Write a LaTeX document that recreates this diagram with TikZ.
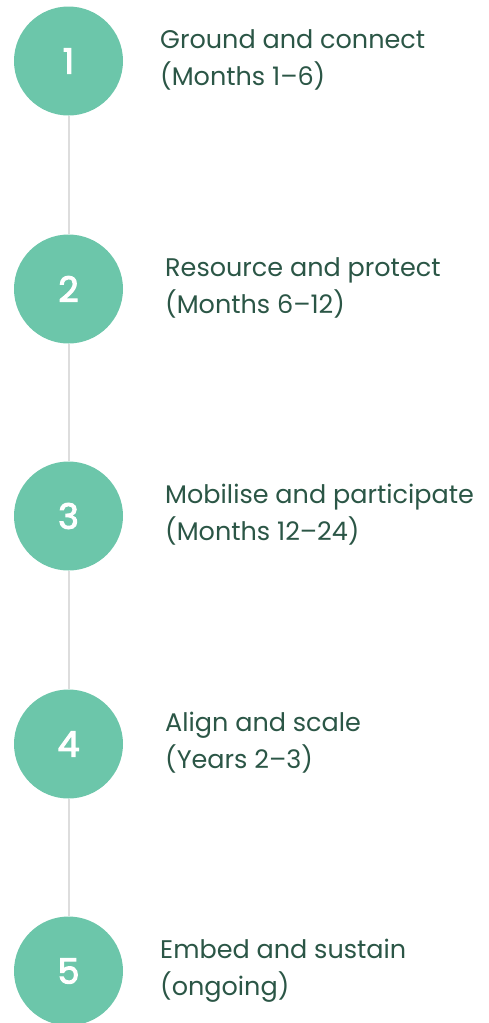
\documentclass[tikz,border=0pt]{standalone}
\usepackage{fontspec}
\setmainfont{Poppins}
\newfontfamily\stepnumfont{Poppins}[FakeBold=3]
\usetikzlibrary{positioning}

\definecolor{stepgreen}{HTML}{6CC6AA}
\definecolor{textgreen}{HTML}{2B5646}
\definecolor{linegrey}{HTML}{DDDDDD}

\tikzset{
    stepcircle/.style={circle, fill=stepgreen, minimum size=109pt, inner sep=0pt,
        text=white, font=\fontsize{35}{35}\stepnumfont},
    steplabel/.style={anchor=base west, inner sep=0pt, align=left, text=textgreen,
        font=\fontsize{25.5}{36.5}\selectfont},
    stepline/.style={draw=linegrey, line width=2pt},
}

\begin{document}
\begin{tikzpicture}[x=1pt, y=-1pt]
        \useasboundingbox (0,0) rectangle (489,1023);

        \node[stepcircle] (S1) at (68.5, 61) {1};
        \node[stepcircle] (S2) at (68.5, 289) {2};
        \node[stepcircle] (S3) at (68.5, 516) {3};
        \node[stepcircle] (S4) at (68.5, 744) {4};
        \node[stepcircle] (S5) at (68.5, 971) {5};

        \node[steplabel] (L1) at (160, 85) {Ground and connect\\(Months 1–6)};
        \node[steplabel] (L2) at (165, 313) {Resource and protect\\(Months 6–12)};
        \node[steplabel] (L3) at (165, 540) {Mobilise and participate\\(Months 12–24)};
        \node[steplabel] (L4) at (165, 768) {Align and scale\\(Years 2–3)};
        \node[steplabel] (L5) at (160, 995) {Embed and sustain\\(ongoing)};

        \begin{scope}[stepline]
            \draw (S1) -- (S2);
            \draw (S2) -- (S3);
            \draw (S3) -- (S4);
            \draw (S4) -- (S5);
        \end{scope}
    \end{tikzpicture}
\end{document}
